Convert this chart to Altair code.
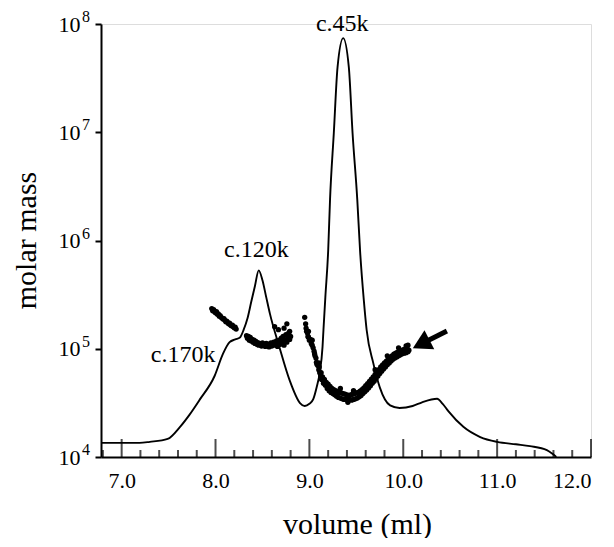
import altair as alt
import pandas as pd

# ---- chromatogram trace (scaled onto the molar-mass axis) ----
trace_vol = [6.78, 7.19, 7.30, 7.49, 7.62, 7.72, 7.83, 7.99, 8.08, 8.15, 8.21, 8.26, 8.30,
             8.34, 8.38, 8.42, 8.46, 8.50, 8.54, 8.58, 8.68, 8.79, 8.90, 8.95, 9.00, 9.04,
             9.08, 9.11, 9.14, 9.15, 9.17, 9.20, 9.22, 9.26, 9.30, 9.36, 9.42, 9.46, 9.51,
             9.54, 9.58, 9.61, 9.68, 9.75, 9.86, 9.96, 10.10, 10.20, 10.30, 10.36, 10.42,
             10.48, 10.64, 10.82, 11.00, 11.20, 11.35, 11.53, 11.59, 11.63]
trace_mass = [1.35e4, 1.35e4, 1.38e4, 1.47e4, 1.89e4, 2.44e4, 3.37e4, 5.6e4, 9.0e4, 1.15e5,
              1.22e5, 1.27e5, 1.5e5, 1.9e5, 2.7e5, 3.8e5, 5.3e5, 4.3e5, 3.0e5, 2.1e5, 1.04e5,
              5.1e4, 3.15e4, 2.96e4, 3.1e4, 3.4e4, 4.5e4, 6.0e4, 1.04e5, 1.5e5, 3.0e5, 8.0e5,
              2.4e6, 9.8e6, 4.0e7, 7.4e7, 4.0e7, 9.8e6, 2.4e6, 8.0e5, 2.8e5, 1.49e5, 7.4e4,
              4.4e4, 3.0e4, 2.84e4, 2.96e4, 3.2e4, 3.4e4, 3.45e4, 3.1e4, 2.65e4, 1.9e4,
              1.53e4, 1.38e4, 1.31e4, 1.26e4, 1.16e4, 1.07e4, 1.0e4]

# ---- molar-mass points (three elution regions) ----
mm_vol_1 = [7.96, 7.97, 7.98, 7.99, 8.00, 8.01, 8.02, 8.03, 8.04, 8.05, 8.06, 8.07, 8.08, 8.09,
            8.10, 8.11, 8.12, 8.13, 8.14, 8.15, 8.16, 8.17, 8.18, 8.19, 8.20, 8.21, 8.22]
mm_mass_1 = [2.35e5, 2.25e5, 2.3e5, 2.2e5, 2.15e5, 2.2e5, 2.08e5, 2.1e5, 2.0e5, 2.02e5, 1.95e5,
             1.92e5, 1.88e5, 1.9e5, 1.83e5, 1.78e5, 1.8e5, 1.74e5, 1.7e5, 1.72e5, 1.66e5,
             1.63e5, 1.65e5, 1.6e5, 1.56e5, 1.58e5, 1.52e5]

mm_vol_2 = [8.33, 8.34, 8.35, 8.36, 8.37, 8.38, 8.39, 8.40, 8.41, 8.42, 8.43, 8.44, 8.45, 8.46,
            8.47, 8.48, 8.49, 8.50, 8.51, 8.52, 8.53, 8.54, 8.55, 8.56, 8.57, 8.58, 8.59, 8.60,
            8.61, 8.62, 8.63, 8.64, 8.65, 8.66, 8.67, 8.68, 8.69, 8.70, 8.71, 8.72, 8.73, 8.74,
            8.75, 8.76, 8.77, 8.78, 8.79, 8.80, 8.63, 8.67, 8.73, 8.76, 8.79]
mm_mass_2 = [1.32e5, 1.25e5, 1.3e5, 1.2e5, 1.27e5, 1.18e5, 1.22e5, 1.15e5, 1.2e5, 1.12e5, 1.17e5,
             1.1e5, 1.14e5, 1.08e5, 1.12e5, 1.1e5, 1.06e5, 1.13e5, 1.08e5, 1.1e5, 1.05e5, 1.12e5,
             1.07e5, 1.1e5, 1.04e5, 1.09e5, 1.13e5, 1.06e5, 1.1e5, 1.15e5, 1.08e5, 1.12e5,
             1.18e5, 1.05e5, 1.12e5, 1.2e5, 1.1e5, 1.25e5, 1.15e5, 1.3e5, 1.08e5, 1.2e5, 1.35e5,
             1.15e5, 1.28e5, 1.4e5, 1.22e5, 1.3e5, 1.6e5, 1.5e5, 1.55e5, 1.7e5, 1.45e5]

mm_vol_3 = [8.95, 8.96, 8.965, 8.97, 8.98, 8.985, 8.99, 9.00, 9.01, 9.02, 9.03, 9.04, 9.05, 9.055,
            9.06, 9.07, 9.075, 9.08, 9.09, 9.10, 9.105, 9.11, 9.12, 9.125, 9.13, 9.14, 9.15,
            9.16, 9.17, 9.18, 9.19, 9.20, 9.21, 9.22, 9.23, 9.24, 9.25, 9.26, 9.27, 9.28, 9.29,
            9.30, 9.31, 9.32, 9.33, 9.34, 9.35, 9.36, 9.37, 9.38, 9.39, 9.40, 9.41, 9.42, 9.43,
            9.44, 9.45, 9.46, 9.47, 9.48, 9.49, 9.50, 9.51, 9.52, 9.53, 9.54, 9.55, 9.56, 9.57,
            9.58, 9.59, 9.60, 9.61, 9.62, 9.63, 9.64, 9.65, 9.66, 9.67, 9.68, 9.69, 9.70, 9.71,
            9.72, 9.73, 9.74, 9.75, 9.76, 9.77, 9.78, 9.79, 9.80, 9.81, 9.82, 9.83, 9.84, 9.85,
            9.86, 9.87, 9.88, 9.89, 9.90, 9.91, 9.92, 9.93, 9.94, 9.95, 9.96, 9.97, 9.98, 9.99,
            10.00, 10.01, 10.02, 10.03, 10.04, 10.05, 10.06,
            8.99, 9.03, 9.10, 9.33, 9.41, 9.47, 9.70, 9.83, 9.95, 10.03, 10.05]
mm_mass_3 = [1.95e5, 1.7e5, 1.55e5, 1.45e5, 1.4e5, 1.3e5, 1.28e5, 1.2e5, 1.22e5, 1.12e5, 1.08e5,
             1.02e5, 9.5e4, 9.0e4, 8.6e4, 8.2e4, 7.5e4, 7.2e4, 7.0e4, 6.4e4, 6.8e4, 6.0e4,
             5.6e4, 6.0e4, 5.2e4, 5.5e4, 4.8e4, 5.2e4, 4.6e4, 4.9e4, 4.3e4, 4.7e4, 4.1e4,
             4.5e4, 3.95e4, 4.3e4, 3.85e4, 4.2e4, 3.75e4, 4.1e4, 3.65e4, 4.0e4, 3.55e4, 3.95e4,
             3.5e4, 3.9e4, 3.45e4, 3.85e4, 3.4e4, 3.8e4, 3.4e4, 3.75e4, 3.35e4, 3.7e4, 3.4e4,
             3.75e4, 3.35e4, 3.8e4, 3.4e4, 3.85e4, 3.45e4, 3.9e4, 3.5e4, 3.95e4, 3.6e4, 4.05e4,
             3.7e4, 4.2e4, 3.85e4, 4.35e4, 4.0e4, 4.55e4, 4.15e4, 4.75e4, 4.35e4, 5.0e4, 4.55e4,
             5.25e4, 4.8e4, 5.5e4, 5.0e4, 5.8e4, 5.3e4, 6.1e4, 5.6e4, 6.4e4, 5.9e4, 6.8e4,
             6.2e4, 7.1e4, 6.5e4, 7.4e4, 6.8e4, 7.7e4, 7.1e4, 8.0e4, 7.4e4, 8.3e4, 7.7e4,
             8.6e4, 8.0e4, 8.9e4, 8.2e4, 9.1e4, 8.4e4, 9.3e4, 8.6e4, 9.5e4, 8.8e4, 9.6e4,
             9.0e4, 9.8e4, 9.1e4, 9.9e4, 9.2e4, 1.0e5, 9.4e4, 9.7e4,
             1.45e5, 1.2e5, 7.4e4, 4.3e4, 3.2e4, 4.1e4, 6.4e4, 8.6e4, 1.02e5, 1.06e5, 1.08e5]

# ---- annotations ----
ann_text = ["c.45k", "c.120k", "c.170k"]
ann_vol = [9.35, 8.435, 7.655]
ann_mass = [1.0e8, 8.2e5, 8.75e4]

# arrow pointing at the rising molar-mass points
arrow_tip_vol, arrow_tip_mass = 10.19, 1.107e5
arrow_tail_vol, arrow_tail_mass = 10.465, 1.46e5

# axis ticks / labels
x_major = [7.0, 8.0, 9.0, 10.0, 11.0, 12.0]
x_minor = [6.8, 7.2, 7.4, 7.6, 7.8, 8.2, 8.4, 8.6, 8.8, 9.2, 9.4, 9.6, 9.8,
           10.2, 10.4, 10.6, 10.8, 11.2, 11.4, 11.6, 11.8]
y_exponents = [4, 5, 6, 7, 8]

FONT = "Liberation Serif"
W, H = 490, 433

xs = alt.Scale(domain=[6.78, 12.0], nice=False, zero=False)
ys = alt.Scale(type="log", domain=[1e4, 1e8], nice=False)

x_axis = alt.Axis(values=x_major, format=".1f", ticks=False, grid=False,
                  labelPadding=13, labelFontSize=22, labelFont=FONT, labelColor="black",
                  domainWidth=2, domainColor="black",
                  title="volume (ml)", titleFont=FONT, titleFontSize=30,
                  titleFontWeight="normal", titleColor="black",
                  titleX=256, titleY=76, titleBaseline="alphabetic", titleAlign="center")
y_axis = alt.Axis(values=[10.0 ** e for e in y_exponents], labelExpr="'10'",
                  tickSize=6, tickWidth=2, tickColor="black", grid=False,
                  labelPadding=15, labelFontSize=22, labelFont=FONT, labelColor="black",
                  labelBaseline="middle",
                  domainWidth=2, domainColor="black",
                  title="molar mass", titleFont=FONT, titleFontSize=30,
                  titleFontWeight="normal", titleColor="black",
                  titleX=-66, titleY=216, titleAngle=270, titleBaseline="alphabetic",
                  titleAlign="center")

trace_df = pd.DataFrame({"vol": trace_vol, "mass": trace_mass})
pts_df = pd.DataFrame({"vol": mm_vol_1 + mm_vol_2 + mm_vol_3,
                       "mass": mm_mass_1 + mm_mass_2 + mm_mass_3})
ann_df = pd.DataFrame({"vol": ann_vol, "mass": ann_mass, "t": ann_text})
arrow_df = pd.DataFrame({"vol": [arrow_tip_vol], "mass": [arrow_tip_mass],
                         "vol2": [arrow_tail_vol], "mass2": [arrow_tail_mass]})
major_df = pd.DataFrame({"vol": x_major})
minor_df = pd.DataFrame({"vol": x_minor})
exp_df = pd.DataFrame({"mass": [10.0 ** e for e in y_exponents],
                       "e": [str(e) for e in y_exponents]})

line = alt.Chart(trace_df).mark_line(color="black", strokeWidth=1.9, interpolate="monotone").encode(
    x=alt.X("vol:Q", scale=xs, axis=x_axis),
    y=alt.Y("mass:Q", scale=ys, axis=y_axis),
)

points = alt.Chart(pts_df).mark_circle(color="black", size=28, opacity=1).encode(
    x="vol:Q", y="mass:Q")

major_ticks = alt.Chart(major_df).mark_tick(color="black", thickness=2, size=18,
                                            orient="vertical").encode(
    x="vol:Q", y=alt.value(H - 9))
minor_ticks = alt.Chart(minor_df).mark_tick(color="black", thickness=2, size=7,
                                            orient="vertical").encode(
    x="vol:Q", y=alt.value(H - 3.5))

sup = alt.Chart(exp_df).mark_text(font=FONT, fontSize=16, color="black", align="center",
                                  baseline="middle", dy=-7).encode(
    x=alt.value(-15), y="mass:Q", text="e:N")

ann = alt.Chart(ann_df).mark_text(font=FONT, fontSize=24, color="black", align="center",
                                  baseline="middle").encode(
    x="vol:Q", y="mass:Q", text="t:N")

shaft = alt.Chart(arrow_df).mark_rule(color="black", strokeWidth=5).encode(
    x="vol:Q", y="mass:Q", x2="vol2:Q", y2="mass2:Q")
head = alt.Chart(arrow_df).mark_point(shape="triangle-up", filled=True, size=460, angle=243,
                                      color="black", opacity=1, strokeWidth=0).encode(
    x="vol:Q", y="mass:Q")

chart = alt.layer(line, points, major_ticks, minor_ticks, sup, ann, shaft, head).properties(
    width=W, height=H,
    autosize=alt.AutoSizeParams(type="none"),
    padding={"left": 93, "top": 16, "right": 15, "bottom": 81},
).configure_view(stroke=None).configure(background="white")

chart.save("out.html", embed_options={"renderer": "svg", "actions": False})
